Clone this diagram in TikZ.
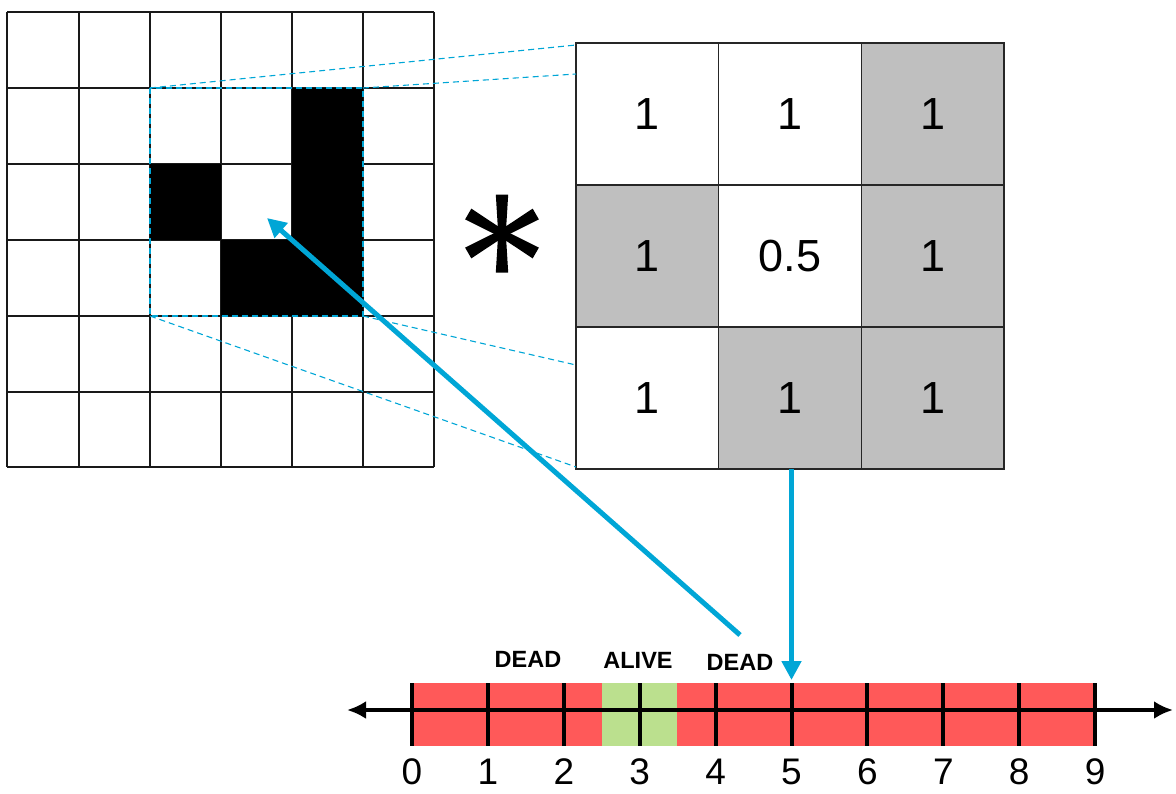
\documentclass[tikz,border=0pt]{standalone}
\usepackage{fontspec}
\setmainfont{Liberation Sans}
\usetikzlibrary{arrows.meta,calc}
\definecolor{cblue}{RGB}{0,166,214}
\definecolor{cred}{RGB}{255,89,89}
\definecolor{cgreen}{RGB}{187,224,142}
\definecolor{cgrey}{RGB}{191,191,191}
\begin{document}
\begin{tikzpicture}[x=1pt,y=-1pt,
  gridline/.style={line width=2.2pt,black!90},
  kcell/.style={draw=black!85,line width=1.6pt,minimum width=142.7pt,minimum height=142pt,inner sep=0pt,outer sep=0pt,font=\fontsize{45}{54}\selectfont},
  guide/.style={cblue,line width=1.1pt,dash pattern=on 6pt off 4pt},
  bluearrow/.style={cblue,line width=5pt,-{Triangle[length=19pt,width=19pt]}},
  axisline/.style={line width=4pt,{Latex[length=19pt,width=18pt]}-{Latex[length=19pt,width=18pt]}},
  tickline/.style={line width=4pt},
  numlab/.style={font=\fontsize{37}{44}\selectfont,inner sep=0pt},
  statelab/.style={font=\bfseries\fontsize{23.5}{28}\selectfont,inner sep=0pt}
]
\useasboundingbox (0,0) rectangle (1176,793);
% input grid
\foreach \x in {7,79,150,221,292,363,434} \draw[gridline] (\x,12) -- (\x,467);
\foreach \y in {12,88,164,240,316,392,467} \draw[gridline] (7,\y) -- (434,\y);
% black cells of the input grid
\fill[black] (292,88) rectangle (363,316);
\fill[black] (150,164) rectangle (221,240);
\fill[black] (221,240) rectangle (363,316);
% window
\coordinate (wtl) at (150,88);
\coordinate (wtr) at (363,88);
\coordinate (wbl) at (150,316);
\coordinate (wbr) at (363,316);
\draw[guide] (wtl) rectangle (wbr);
% kernel
\node[kcell,fill=white] (k00) at (647.3,114) {1};
\node[kcell,fill=white] (k01) at (790,114) {1};
\node[kcell,fill=cgrey] (k02) at (932.7,114) {1};
\node[kcell,fill=cgrey] (k10) at (647.3,256) {1};
\node[kcell,fill=white] (k11) at (790,256) {0.5};
\node[kcell,fill=cgrey] (k12) at (932.7,256) {1};
\node[kcell,fill=white] (k20) at (647.3,398) {1};
\node[kcell,fill=cgrey] (k21) at (790,398) {1};
\node[kcell,fill=cgrey] (k22) at (932.7,398) {1};
% guide lines
\coordinate (g1) at (576,45);
\coordinate (g2) at (576,74);
\coordinate (g3) at (576,365);
\coordinate (g4) at (576,467);
\draw[guide] (wtl) -- (g1);
\draw[guide] (wtr) -- (g2);
\draw[guide] (wbr) -- (g3);
\draw[guide] (wbl) -- (g4);
% asterisk
\coordinate (ast) at (502,233.5);
\foreach \a in {30,90,150,210,270,330}
  \fill[black] ($(ast)+(\a+90:3.8)$) -- ($(ast)+(\a:39)+(\a+90:6.2)$) -- ($(ast)+(\a:39)+(\a-90:6.2)$) -- ($(ast)+(\a-90:3.8)$) -- cycle;
\fill[black] (ast) circle (5);
% number line
\fill[cred] (412,683) rectangle (1095,746);
\fill[cgreen] (602,683) rectangle (677,746);
\coordinate (axl) at (347,710);
\coordinate (axr) at (1173,710);
\draw[axisline] (axl) -- (axr);
\foreach \i in {0,...,9}{
  \pgfmathsetmacro\xx{412+75.9*\i}
  \draw[tickline] (\xx,683) -- (\xx,746);
  \node[numlab] (n\i) at (\xx,772) {\i};
}
\node[statelab] (dead1) at (528,659) {DEAD};
\node[statelab] (alive) at (638,660) {ALIVE};
\node[statelab] (dead2) at (740,662) {DEAD};
% arrows
\coordinate (tip5) at (791.5,680);
\draw[bluearrow] (k21.south -| tip5) -- (tip5);
\coordinate (tail) at (740,635);
\coordinate (ctr) at (267,218);
\draw[bluearrow] (tail) -- (ctr);
\end{tikzpicture}
\end{document}
